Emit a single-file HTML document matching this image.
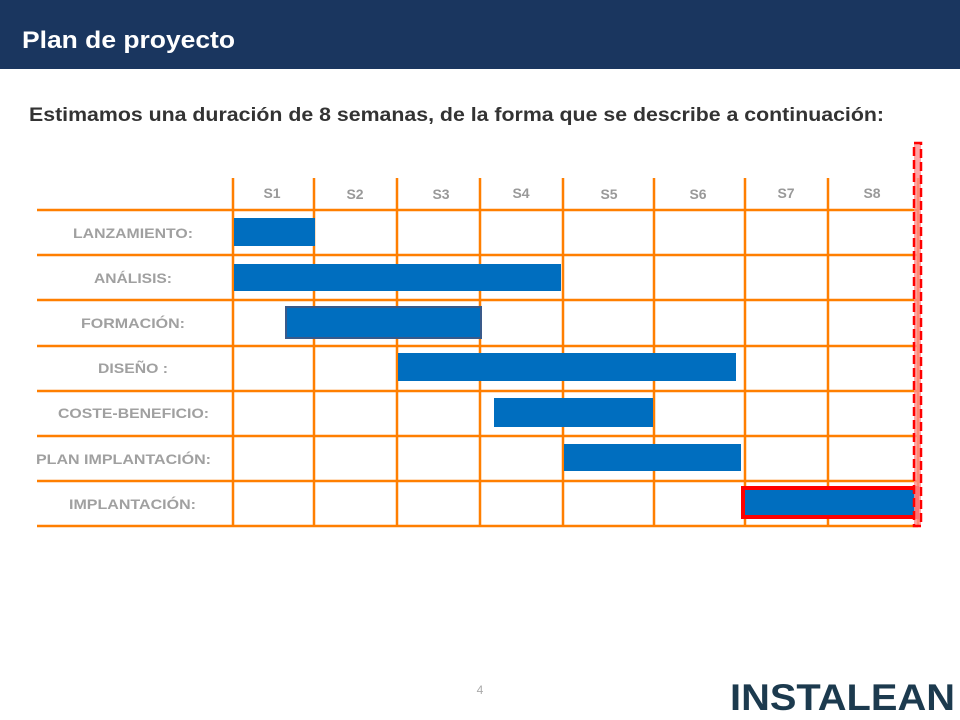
<!DOCTYPE html>
<html><head><meta charset="utf-8"><style>
html,body{margin:0;padding:0;background:#fff;}
body{width:960px;height:720px;overflow:hidden;position:relative;font-family:"Liberation Sans",Arial,sans-serif;}
.hdr{position:absolute;left:0;top:0;width:960px;height:69px;background:#1a365f;}
svg{position:absolute;left:0;top:0;}
</style></head><body>
<div class="hdr"></div>
<svg width="960" height="720" xmlns="http://www.w3.org/2000/svg" font-family="Liberation Sans, Arial, sans-serif">
<text x="22" y="48" fill="#fff" font-size="24" font-weight="bold" textLength="213" lengthAdjust="spacingAndGlyphs">Plan de proyecto</text>
<text x="29" y="121" fill="#333" font-size="19" font-weight="bold" textLength="855" lengthAdjust="spacingAndGlyphs">Estimamos una duración de 8 semanas, de la forma que se describe a continuación:</text>
<g stroke="#ff7f00" stroke-width="2.5">
<line x1="37" y1="210" x2="918" y2="210"/>
<line x1="37" y1="255" x2="918" y2="255"/>
<line x1="37" y1="300" x2="918" y2="300"/>
<line x1="37" y1="346" x2="918" y2="346"/>
<line x1="37" y1="391" x2="918" y2="391"/>
<line x1="37" y1="436" x2="918" y2="436"/>
<line x1="37" y1="481" x2="918" y2="481"/>
<line x1="37" y1="526" x2="918" y2="526"/>
<line x1="233" y1="178" x2="233" y2="526"/>
<line x1="314" y1="178" x2="314" y2="526"/>
<line x1="397" y1="178" x2="397" y2="526"/>
<line x1="480" y1="178" x2="480" y2="526"/>
<line x1="563" y1="178" x2="563" y2="526"/>
<line x1="654" y1="178" x2="654" y2="526"/>
<line x1="745" y1="178" x2="745" y2="526"/>
<line x1="828" y1="178" x2="828" y2="526"/>
<line x1="918" y1="178" x2="918" y2="526"/>
</g>
<g fill="#999" font-size="14" font-weight="bold" text-anchor="middle">
<text x="272" y="198">S1</text><text x="355" y="199">S2</text><text x="441" y="199">S3</text>
<text x="521" y="198">S4</text><text x="609" y="199">S5</text><text x="698" y="199">S6</text>
<text x="786" y="198">S7</text><text x="872" y="198">S8</text>
</g>
<g fill="#a0a0a0" font-size="14" font-weight="bold">
<text x="73" y="238" textLength="120" lengthAdjust="spacingAndGlyphs">LANZAMIENTO:</text>
<text x="94" y="283" textLength="78" lengthAdjust="spacingAndGlyphs">ANÁLISIS:</text>
<text x="81" y="328" textLength="104" lengthAdjust="spacingAndGlyphs">FORMACIÓN:</text>
<text x="98" y="373" textLength="70" lengthAdjust="spacingAndGlyphs">DISEÑO :</text>
<text x="58" y="418" textLength="151" lengthAdjust="spacingAndGlyphs">COSTE-BENEFICIO:</text>
<text x="36" y="464" textLength="175" lengthAdjust="spacingAndGlyphs">PLAN IMPLANTACIÓN:</text>
<text x="69" y="509" textLength="127" lengthAdjust="spacingAndGlyphs">IMPLANTACIÓN:</text>
</g>
<g fill="#006ebf">
<rect x="234" y="218" width="81" height="28"/>
<rect x="234" y="264" width="327" height="27"/>
<rect x="286" y="307" width="195" height="31" stroke="#3a5a8a" stroke-width="2"/>
<rect x="398" y="353" width="338" height="28"/>
<rect x="494" y="398" width="159" height="29"/>
<rect x="564" y="444" width="177" height="27"/>
<rect x="743" y="488" width="174" height="29" stroke="#ff0000" stroke-width="4"/>
</g>
<rect x="914" y="143" width="7" height="383" fill="#ff9090" opacity="0.8"/>
<rect x="914" y="143" width="7" height="383" fill="none" stroke="#ff0000" stroke-width="2.5" stroke-dasharray="9,4"/>
<text x="480" y="694" fill="#aaa" font-size="12" text-anchor="middle">4</text>
<text x="730" y="710" fill="#1c3a4e" font-size="37" font-weight="bold" textLength="225" lengthAdjust="spacingAndGlyphs">INSTALEAN</text>
</svg>
</body></html>
